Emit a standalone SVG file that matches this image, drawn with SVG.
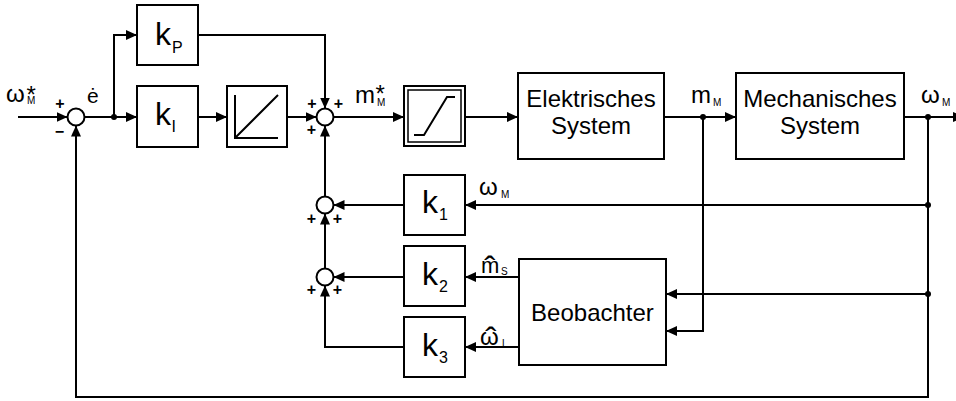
<svg xmlns="http://www.w3.org/2000/svg" width="956" height="401" viewBox="0 0 956 401">
<style>
.box{fill:#fff;stroke:#000;stroke-width:2}
.ln{fill:none;stroke:#000;stroke-width:2}
.sum{fill:#fff;stroke:#000;stroke-width:2}
.t{font-family:"Liberation Sans",Arial,sans-serif;fill:#000}
.k{font-size:32px}
.ks{font-size:16px}
.lab{font-size:24px}
.sub{font-size:10px}
.bt{font-size:24px;text-anchor:middle}
.pm{font-family:"Liberation Sans",Arial,sans-serif;font-size:16px;font-weight:bold;text-anchor:middle}
</style>
<defs>
<marker id="ah" markerUnits="userSpaceOnUse" markerWidth="12" markerHeight="12" refX="11" refY="5" orient="auto">
<path d="M0,0 L11,5 L0,10 z" fill="#000"/>
</marker>
</defs>
<rect width="956" height="401" fill="#fff"/>

<g id="connectors" class="ln" marker-end="url(#ah)">
<path d="M18,117 H67.5"/>
<path d="M84.5,117 H137"/>
<path d="M114,117 V35 H137"/>
<path d="M198,117 H227"/>
<path d="M287,117 H316.5"/>
<path d="M198,35 H325 V108.5"/>
<path d="M333.5,117 H404"/>
<path d="M465,117 H518"/>
<path d="M664,117 H736"/>
<path d="M904,117 H964"/>
<path d="M928,117 V397 H76 V125.5"/>
<path d="M928,205 H465"/>
<path d="M928,294 H666"/>
<path d="M703,117 V331 H666"/>
<path d="M404,205 H333.5"/>
<path d="M519,277 H465"/>
<path d="M404,277 H333.5"/>
<path d="M519,347 H465"/>
<path d="M404,347 H325 V285.5"/>
<path d="M325,268.5 V213.5"/>
<path d="M325,196.5 V125.5"/>
</g>
<g id="junctions" fill="#000">
<circle cx="114" cy="117" r="3"/>
<circle cx="703" cy="117" r="3"/>
<circle cx="928" cy="117" r="3"/>
<circle cx="928" cy="205" r="3"/>
<circle cx="928" cy="294" r="3"/>
</g>

<g id="input-label">
<text class="t" x="6" y="102"><tspan font-size="24">ω</tspan><tspan x="26.5" y="103" font-size="24">*</tspan><tspan x="27" y="104" font-size="10">M</tspan></text>
</g>
<g id="error-label"><text class="t" x="87" y="103" font-size="21">ė</text></g>

<g id="sum1">
<circle class="sum" cx="76" cy="117" r="8.5"/>
<text class="pm" x="60" y="108.5">+</text>
<text class="pm" x="59.5" y="137">−</text>
</g>

<g id="kP">
<rect class="box" x="137" y="5" width="61" height="60"/>
<text class="t k" x="155" y="45">k</text>
<text class="t ks" x="172" y="53">P</text>
</g>
<g id="kI">
<rect class="box" x="137" y="86" width="61" height="61"/>
<text class="t k" x="155" y="125">k</text>
<text class="t ks" x="171.5" y="132">I</text>
</g>
<g id="integrator">
<rect class="box" x="227" y="86" width="60" height="61"/>
<path class="ln" d="M235,95 V138 H278 M235,138 L278,95"/>
</g>

<g id="sum2">
<circle class="sum" cx="325" cy="117" r="8.5"/>
<text class="pm" x="312" y="108.5">+</text>
<text class="pm" x="338.5" y="108.5">+</text>
<text class="pm" x="311.5" y="134.5">+</text>
</g>
<g id="mstar-label">
<text class="t" x="355" y="103"><tspan font-size="24">m</tspan><tspan x="375.5" y="102" font-size="24">*</tspan><tspan x="377" y="105.5" font-size="10">M</tspan></text>
</g>

<g id="saturation">
<rect class="box" x="404" y="86" width="61" height="60"/>
<rect x="408" y="90" width="53" height="52" fill="none" stroke="#000" stroke-width="1.5"/>
<path class="ln" d="M414,135 H424 L447,97 H455"/>
</g>

<g id="elektrisch">
<rect class="box" x="518" y="73" width="146" height="86"/>
<text class="t bt" x="591" y="107">Elektrisches</text>
<text class="t bt" x="591" y="134">System</text>
</g>
<g id="mM-label">
<text class="t" x="691" y="103"><tspan font-size="24">m</tspan><tspan x="713" y="105.5" font-size="10">M</tspan></text>
</g>

<g id="mechanisch">
<rect class="box" x="736" y="73" width="168" height="86"/>
<text class="t bt" x="820" y="107">Mechanisches</text>
<text class="t bt" x="820" y="134">System</text>
</g>
<g id="omegaM-out-label">
<text class="t" x="921" y="103"><tspan font-size="24">ω</tspan><tspan x="942" y="105.5" font-size="10">M</tspan></text>
</g>

<g id="k1">
<rect class="box" x="404" y="175" width="61" height="60"/>
<text class="t k" x="422" y="213">k</text>
<text class="t ks" x="439" y="220">1</text>
</g>
<g id="omegaM-fb-label">
<text class="t" x="479" y="195"><tspan font-size="24">ω</tspan><tspan x="501" y="197.5" font-size="10">M</tspan></text>
</g>

<g id="k2">
<rect class="box" x="404" y="246" width="61" height="60"/>
<text class="t k" x="422" y="285">k</text>
<text class="t ks" x="439" y="292">2</text>
</g>
<g id="mS-label">
<text class="t" x="481" y="273"><tspan font-size="22">m</tspan><tspan x="490" y="280" font-size="34" text-anchor="middle">ˆ</tspan><tspan x="501" y="275" font-size="10">S</tspan></text>
</g>

<g id="k3">
<rect class="box" x="404" y="317" width="61" height="60"/>
<text class="t k" x="422" y="356">k</text>
<text class="t ks" x="439" y="363">3</text>
</g>
<g id="omegaL-label">
<text class="t" x="480" y="345"><tspan font-size="24">ω</tspan><tspan x="491" y="351" font-size="34" text-anchor="middle">ˆ</tspan><tspan x="502" y="347" font-size="10">L</tspan></text>
</g>

<g id="sum3">
<circle class="sum" cx="325" cy="205" r="8.5"/>
<text class="pm" x="311.5" y="224">+</text>
<text class="pm" x="337.5" y="224">+</text>
</g>
<g id="sum4">
<circle class="sum" cx="325" cy="277" r="8.5"/>
<text class="pm" x="311.5" y="295">+</text>
<text class="pm" x="337.5" y="295">+</text>
</g>

<g id="beobachter">
<rect class="box" x="519" y="259" width="147" height="106"/>
<text class="t bt" x="592.5" y="321">Beobachter</text>
</g>
</svg>
